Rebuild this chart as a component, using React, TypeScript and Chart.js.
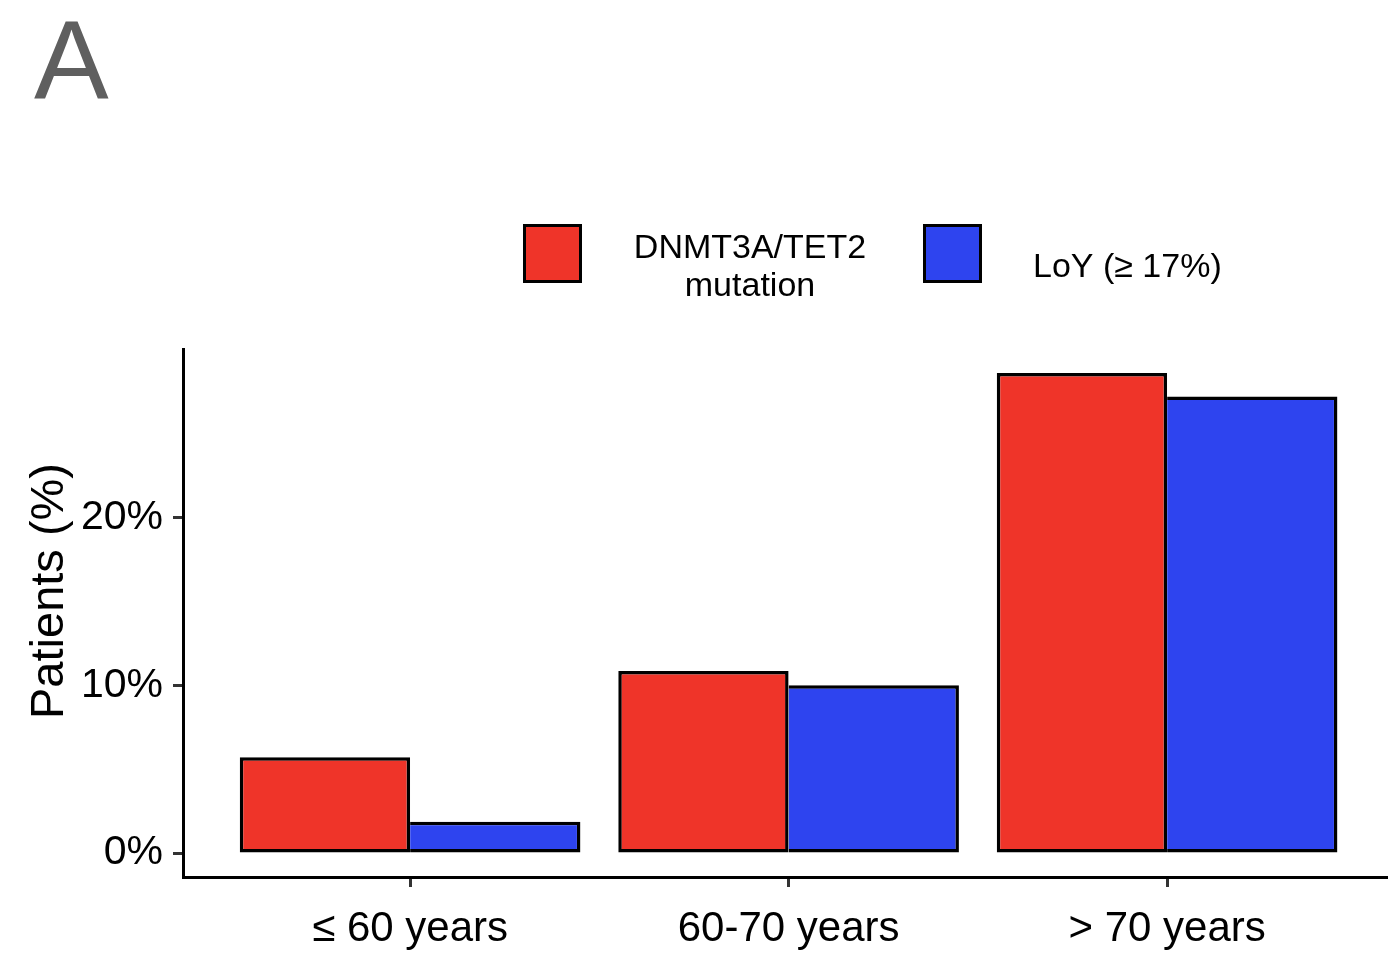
import React, { useEffect, useRef } from "react";
import { Chart, registerables } from "chart.js";

Chart.register(...registerables);

// ---- data ----
const categories: string[] = ["≤ 60 years", "60-70 years", "> 70 years"];
const mutationValues: number[] = [5.71, 10.86, 28.63];
const loyValues: number[] = [1.86, 10.0, 27.23];
const seriesNames: string[] = ["DNMT3A/TET2\nmutation", "LoY (≥ 17%)"];
const seriesColors: string[] = ["#EF3429", "#2E44EF"];
const yTickValues: number[] = [0, 10, 20];
const yAxisTitle = "Patients (%)";
const panelLabel = "A";

const FONT = "'Liberation Sans', Arial, Helvetica, sans-serif";

const dataMax = Math.max(...mutationValues, ...loyValues);
const yMin = -0.05 * dataMax;
const yMax = dataMax * 1.05;

const W = 1388;
const H = 969;

const overlayPlugin = {
  id: "overlay",
  afterDraw(chart: any) {
    const ctx = chart.ctx;
    ctx.save();
    // Panel label
    ctx.fillStyle = "#5f5f5f";
    ctx.font = `112px ${FONT}`;
    ctx.textAlign = "left";
    ctx.textBaseline = "alphabetic";
    ctx.fillText(panelLabel, 34, 98);

    // Y axis title
    ctx.save();
    ctx.fillStyle = "#000";
    ctx.font = `47px ${FONT}`;
    ctx.translate(63, 591);
    ctx.rotate(-Math.PI / 2);
    ctx.textAlign = "center";
    ctx.fillText(yAxisTitle, 0, 0);
    ctx.restore();

    // Legend
    const items = chart.data.datasets;
    const boxX = [524.5, 924.5];
    const textPos = [
      { x: 750, y: 258, align: "center" },
      { x: 1033, y: 277, align: "left" },
    ];
    items.forEach((ds: any, i: number) => {
      ctx.fillStyle = ds.backgroundColor;
      ctx.fillRect(boxX[i], 225.5, 56, 56);
      ctx.strokeStyle = "#000";
      ctx.lineWidth = 3;
      ctx.strokeRect(boxX[i], 225.5, 56, 56);
      ctx.fillStyle = "#000";
      ctx.font = `34px ${FONT}`;
      ctx.textAlign = textPos[i].align;
      ctx.textBaseline = "alphabetic";
      const lines = String(ds.label).split("\n");
      lines.forEach((ln: string, j: number) => {
        ctx.fillText(ln, textPos[i].x, textPos[i].y + j * 38);
      });
    });
    ctx.restore();
  },
};

export default function App() {
  const ref = useRef<HTMLCanvasElement | null>(null);
  useEffect(() => {
    if (!ref.current) return;
    const chart = new Chart(ref.current, {
      type: "bar",
      data: {
        datasets: [
          {
            label: seriesNames[0],
            data: categories.map((_, i) => ({ x: i + 1, y: mutationValues[i] })),
            backgroundColor: seriesColors[0],
            borderColor: "#000",
            borderWidth: 3.5,
            borderSkipped: false,
            inflateAmount: 0,
            categoryPercentage: 0.9,
            barPercentage: 1.0,
          },
          {
            label: seriesNames[1],
            data: categories.map((_, i) => ({ x: i + 1, y: loyValues[i] })),
            backgroundColor: seriesColors[1],
            borderColor: "#000",
            borderWidth: 3.5,
            borderSkipped: "left",
            inflateAmount: 0,
            categoryPercentage: 0.9,
            barPercentage: 1.0,
          },
        ],
      } as any,
      options: {
        responsive: false,
        animation: false,
        layout: { padding: { top: 349, left: 0, right: 0, bottom: 0 } },
        plugins: {
          legend: { display: false },
          tooltip: { enabled: false },
          title: { display: false },
        },
        scales: {
          x: {
            type: "linear",
            offset: false,
            min: 0.4,
            max: 0.4 + 1205 / 378.5,
            afterBuildTicks: (axis: any) => {
              axis.ticks = categories.map((_, i) => ({ value: i + 1 }));
            },
            afterFit: (axis: any) => {
              axis.height = 92;
            },
            ticks: {
              autoSkip: false,
              maxRotation: 0,
              minRotation: 0,
              padding: 17,
              color: "#000",
              font: { family: FONT, size: 42 },
              callback: (_v: any, i: number) => categories[i],
            },
            grid: {
              offset: false,
              drawOnChartArea: false,
              drawTicks: true,
              tickLength: 10,
              tickWidth: 3,
              tickColor: "#333",
            },
            border: { display: true, color: "#000", width: 3 },
          },
          y: {
            type: "linear",
            min: yMin,
            max: yMax,
            afterBuildTicks: (axis: any) => {
              axis.ticks = yTickValues.map((v) => ({ value: v }));
            },
            afterFit: (axis: any) => {
              axis.width = 183;
            },
            ticks: {
              padding: 10,
              color: "#000",
              font: { family: FONT, size: 41 },
              callback: (v: any) => `${v}%`,
            },
            grid: {
              drawOnChartArea: false,
              drawTicks: true,
              tickLength: 10,
              tickWidth: 3,
              tickColor: "#333",
            },
            border: { display: true, color: "#000", width: 3 },
          },
        },
      } as any,
      plugins: [overlayPlugin],
    });
    return () => chart.destroy();
  }, []);
  return (
    <div style={{ position: "fixed", left: 0, top: 0, width: W, height: H, background: "#fff" }}>
      <canvas ref={ref} width={W} height={H} style={{ width: W, height: H, display: "block" }} />
    </div>
  );
}
